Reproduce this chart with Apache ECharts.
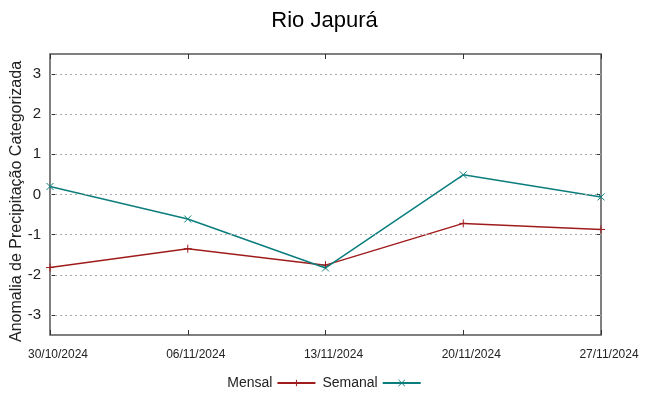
<!DOCTYPE html>
<html><head><meta charset="utf-8">
<script src="https://cdn.jsdelivr.net/npm/echarts@6/dist/echarts.min.js"></script>
<style>html,body{margin:0;padding:0;background:#fff}#c{width:649px;height:396px}</style>
</head><body><div id="c"></div>
<script>
const categories = ['30/10/2024','06/11/2024','13/11/2024','20/11/2024','27/11/2024'];
const mensal = [-1.82, -1.35, -1.76, -0.72, -0.87];
const semanal = [0.2, -0.61, -1.83, 0.49, -0.06];
const yTicks = [-3, -2, -1, 0, 1, 2, 3];
const titleText = 'Rio Japurá';
const yName = 'Anomalia de Precipitação Categorizada';

const RED = '#a01c1c', TEAL = '#0b7d7d';
const plus = 'path://M0,5L10,5M5,0L5,10';
const cross = 'path://M0,0L10,10M0,10L10,0';
const chart = echarts.init(document.getElementById('c'), null, {renderer:'canvas'});
const yCommon = {
  type:'value', min:-3.5, max:3.5,
  axisLine:{show:false},
  axisTick:{show:true, inside:true, length:5, lineStyle:{color:'#333'}, customValues:yTicks},
  splitLine:{show:false}
};
chart.setOption({
  animation:false,
  title:{text:titleText, left:'center', top:5,
    textStyle:{fontFamily:'Liberation Sans', fontSize:22, fontWeight:'normal', color:'#000'}},
  grid:{left:50, right:48, top:54, bottom:61, show:true, borderColor:'#555', borderWidth:1.5,
    containLabel:false, outerBoundsMode:'none'},
  legend:{bottom:1, left:'center', align:'right', itemWidth:38, itemHeight:8, itemGap:6,
    textStyle:{fontFamily:'Liberation Sans', fontSize:14, color:'#222'},
    itemStyle:{borderWidth:1},
    data:['Mensal','Semanal']},
  xAxis:[{
    type:'category', data:categories, boundaryGap:false,
    axisLine:{show:false, onZero:false},
    axisTick:{show:true, inside:true, length:5, alignWithLabel:true, lineStyle:{color:'#333'}},
    axisLabel:{fontFamily:'Liberation Sans', fontSize:12, color:'#222', margin:14, padding:[0,0,0,16]},
    splitLine:{show:false}
  },{
    type:'category', data:categories, boundaryGap:false, position:'top',
    axisLine:{show:false, onZero:false}, axisLabel:{show:false},
    axisTick:{show:true, inside:true, length:5, lineStyle:{color:'#333'}}
  }],
  yAxis:[Object.assign({}, yCommon, {
    name:yName, nameLocation:'middle', nameGap:25, nameMoveOverlap:false,
    nameTextStyle:{fontFamily:'Liberation Sans', fontSize:16, color:'#222', padding:[0,14,0,0]},
    axisLabel:{fontFamily:'Liberation Sans', fontSize:15, color:'#222', margin:9, customValues:yTicks}
  }), Object.assign({}, yCommon, {position:'right', axisLabel:{show:false}})],
  series:[
    {name:'Mensal', type:'line', data:mensal, symbol:plus, symbolSize:8, showSymbol:true,
      lineStyle:{color:RED, width:1.5}, itemStyle:{color:RED, borderColor:RED, borderWidth:1},
      markLine:{silent:true, symbol:['none','none'], label:{show:false},
        lineStyle:{color:'#aaa', type:[2,3], width:1},
        data:yTicks.map(v=>({yAxis:v}))}},
    {name:'Semanal', type:'line', data:semanal, symbol:cross, symbolSize:7, showSymbol:true,
      lineStyle:{color:TEAL, width:1.5}, itemStyle:{color:TEAL, borderColor:TEAL, borderWidth:1}}
  ]
});
</script></body></html>
